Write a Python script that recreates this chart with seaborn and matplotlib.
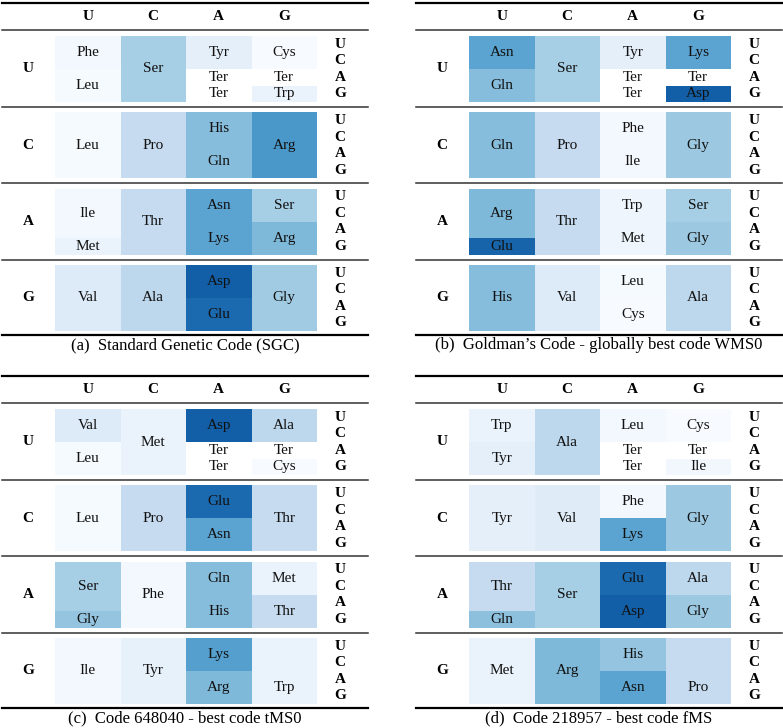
import numpy as np
import matplotlib
matplotlib.use("Agg")
import matplotlib.pyplot as plt
from matplotlib.lines import Line2D
import seaborn as sns

plt.rcParams["font.family"] = ["Liberation Serif", "DejaVu Serif"]

# 1. Data

BASES = ["U", "C", "A", "G"]

CAPTIONS = [
    "(a)  Standard Genetic Code (SGC)",
    "(b)  Goldman\u2019s Code - globally best code WMS0",
    "(c)  Code 648040 - best code tMS0",
    "(d)  Code 218957 - best code fMS",
]

# amino acid per codon: rows = first+third base, columns = second base
# "" = cell coloured like its neighbour but without its own label
SGC_NAMES = [
    ["Phe", "Ser", "Tyr", "Cys"], ["Phe", "Ser", "Tyr", "Cys"],
    ["Leu", "Ser", "Ter", "Ter"], ["Leu", "Ser", "Ter", "Trp"],
    ["Leu", "Pro", "His", "Arg"], ["Leu", "Pro", "His", "Arg"],
    ["Leu", "Pro", "Gln", "Arg"], ["Leu", "Pro", "Gln", "Arg"],
    ["Ile", "Thr", "Asn", "Ser"], ["Ile", "Thr", "Asn", "Ser"],
    ["Ile", "Thr", "Lys", "Arg"], ["Met", "Thr", "Lys", "Arg"],
    ["Val", "Ala", "Asp", "Gly"], ["Val", "Ala", "Asp", "Gly"],
    ["Val", "Ala", "Glu", "Gly"], ["Val", "Ala", "Glu", "Gly"],
]
SGC_SHADE = [
    [0.02, 0.35, 0.09, 0.00], [0.02, 0.35, 0.09, 0.00],
    [0.01, 0.35, np.nan, np.nan], [0.01, 0.35, np.nan, 0.07],
    [0.01, 0.25, 0.43, 0.60], [0.01, 0.25, 0.43, 0.60],
    [0.01, 0.25, 0.43, 0.60], [0.01, 0.25, 0.43, 0.60],
    [0.02, 0.25, 0.55, 0.35], [0.02, 0.25, 0.55, 0.35],
    [0.02, 0.25, 0.55, 0.45], [0.07, 0.25, 0.55, 0.45],
    [0.13, 0.28, 0.82, 0.37], [0.13, 0.28, 0.82, 0.37],
    [0.13, 0.28, 0.78, 0.37], [0.13, 0.28, 0.78, 0.37],
]

WMS0_NAMES = [
    ["Asn", "Ser", "Tyr", "Lys"], ["Asn", "Ser", "Tyr", "Lys"],
    ["Gln", "Ser", "Ter", "Ter"], ["Gln", "Ser", "Ter", "Asp"],
    ["Gln", "Pro", "Phe", "Gly"], ["Gln", "Pro", "Phe", "Gly"],
    ["Gln", "Pro", "Ile", "Gly"], ["Gln", "Pro", "Ile", "Gly"],
    ["Arg", "Thr", "Trp", "Ser"], ["Arg", "Thr", "Trp", "Ser"],
    ["Arg", "Thr", "Met", "Gly"], ["Glu", "Thr", "Met", "Gly"],
    ["His", "Val", "Leu", "Ala"], ["His", "Val", "Leu", "Ala"],
    ["His", "Val", "Cys", "Ala"], ["His", "Val", "Cys", "Ala"],
]
WMS0_SHADE = [
    [0.55, 0.35, 0.09, 0.55], [0.55, 0.35, 0.09, 0.55],
    [0.43, 0.35, np.nan, np.nan], [0.43, 0.35, np.nan, 0.82],
    [0.43, 0.25, 0.02, 0.38], [0.43, 0.25, 0.02, 0.38],
    [0.43, 0.25, 0.02, 0.38], [0.43, 0.25, 0.02, 0.38],
    [0.45, 0.25, 0.05, 0.35], [0.45, 0.25, 0.05, 0.35],
    [0.45, 0.25, 0.05, 0.38], [0.80, 0.25, 0.05, 0.38],
    [0.43, 0.13, 0.01, 0.28], [0.43, 0.13, 0.01, 0.28],
    [0.43, 0.13, 0.00, 0.28], [0.43, 0.13, 0.00, 0.28],
]

TMS0_NAMES = [
    ["Val", "Met", "Asp", "Ala"], ["Val", "Met", "Asp", "Ala"],
    ["Leu", "Met", "Ter", "Ter"], ["Leu", "Met", "Ter", "Cys"],
    ["Leu", "Pro", "Glu", "Thr"], ["Leu", "Pro", "Glu", "Thr"],
    ["Leu", "Pro", "Asn", "Thr"], ["Leu", "Pro", "Asn", "Thr"],
    ["Ser", "Phe", "Gln", "Met"], ["Ser", "Phe", "Gln", "Met"],
    ["Ser", "Phe", "His", "Thr"], ["Gly", "Phe", "His", "Thr"],
    ["Ile", "Tyr", "Lys", ""], ["Ile", "Tyr", "Lys", ""],
    ["Ile", "Tyr", "Arg", "Trp"], ["Ile", "Tyr", "Arg", "Trp"],
]
TMS0_SHADE = [
    [0.13, 0.07, 0.82, 0.28], [0.13, 0.07, 0.82, 0.28],
    [0.01, 0.07, np.nan, np.nan], [0.01, 0.07, np.nan, 0.00],
    [0.01, 0.25, 0.78, 0.25], [0.01, 0.25, 0.78, 0.25],
    [0.01, 0.25, 0.55, 0.25], [0.01, 0.25, 0.55, 0.25],
    [0.35, 0.02, 0.43, 0.07], [0.35, 0.02, 0.43, 0.07],
    [0.35, 0.02, 0.43, 0.25], [0.40, 0.02, 0.43, 0.25],
    [0.02, 0.08, 0.57, 0.07], [0.02, 0.08, 0.57, 0.07],
    [0.02, 0.08, 0.45, 0.07], [0.02, 0.08, 0.45, 0.07],
]

FMS_NAMES = [
    ["Trp", "Ala", "Leu", "Cys"], ["Trp", "Ala", "Leu", "Cys"],
    ["Tyr", "Ala", "Ter", "Ter"], ["Tyr", "Ala", "Ter", "Ile"],
    ["Tyr", "Val", "Phe", "Gly"], ["Tyr", "Val", "Phe", "Gly"],
    ["Tyr", "Val", "Lys", "Gly"], ["Tyr", "Val", "Lys", "Gly"],
    ["Thr", "Ser", "Glu", "Ala"], ["Thr", "Ser", "Glu", "Ala"],
    ["Thr", "Ser", "Asp", "Gly"], ["Gln", "Ser", "Asp", "Gly"],
    ["Met", "Arg", "His", ""], ["Met", "Arg", "His", ""],
    ["Met", "Arg", "Asn", "Pro"], ["Met", "Arg", "Asn", "Pro"],
]
FMS_SHADE = [
    [0.07, 0.28, 0.02, 0.00], [0.07, 0.28, 0.02, 0.00],
    [0.09, 0.28, np.nan, np.nan], [0.09, 0.28, np.nan, 0.03],
    [0.09, 0.12, 0.02, 0.38], [0.09, 0.12, 0.02, 0.38],
    [0.09, 0.12, 0.55, 0.38], [0.09, 0.12, 0.55, 0.38],
    [0.25, 0.35, 0.78, 0.28], [0.25, 0.35, 0.78, 0.28],
    [0.25, 0.35, 0.82, 0.38], [0.42, 0.35, 0.82, 0.38],
    [0.07, 0.45, 0.40, 0.25], [0.07, 0.45, 0.40, 0.25],
    [0.07, 0.45, 0.55, 0.25], [0.07, 0.45, 0.55, 0.25],
]

PANELS = [
    (SGC_NAMES, SGC_SHADE),
    (WMS0_NAMES, WMS0_SHADE),
    (TMS0_NAMES, TMS0_SHADE),
    (FMS_NAMES, FMS_SHADE),
]

# 2. Layout (pixels)

W, H = 783, 728
ORIGINS = [(2, 3), (416, 3), (2, 376), (416, 376)]
TABLE_W = 366
HM_X0, HM_W = 53, 262
BLOCK_TOP0, BLOCK_PITCH, BLOCK_H = 33, 76.3, 66


def fx(x):
    return x / W


def fy(y):
    return 1 - y / H


def hline(fig, x0, x1, y, lw, color):
    fig.add_artist(Line2D([fx(x0), fx(x1)], [fy(y), fy(y)],
                          lw=lw, color=color, transform=fig.transFigure))


def label_runs(col):
    """Yield (text, centre row) for runs of equal names in one column."""
    runs = []
    i = 0
    while i < len(col):
        j = i
        if col[i] != "Ter":
            while j + 1 < len(col) and col[j + 1] == col[i]:
                j += 1
        if col[i]:
            runs.append((col[i], (i + j + 1) / 2))
        i = j + 1
    return runs


def draw_panel(fig, names, shade, caption, ox, oy):
    names = np.array(names)
    shade = np.array(shade, dtype=float)

    hline(fig, ox, ox + TABLE_W, oy, 1.6, "black")
    hline(fig, ox, ox + TABLE_W, oy + 27, 1.1, "#333333")
    for k, b in enumerate(BASES):
        fig.text(fx(ox + HM_X0 + HM_W * (k + 0.5) / 4), fy(oy + 13.5), b,
                 ha="center", va="center", fontsize=11, fontweight="bold")

    for b in range(4):
        top = oy + BLOCK_TOP0 + b * BLOCK_PITCH
        ax = fig.add_axes([fx(ox + HM_X0), fy(top + BLOCK_H),
                           HM_W / W, BLOCK_H / H])
        vals = shade[b * 4:(b + 1) * 4]
        sns.heatmap(vals, ax=ax, cmap="Blues", vmin=0, vmax=1, cbar=False,
                    mask=np.isnan(vals), xticklabels=False,
                    yticklabels=False, linewidths=0)
        ax.set_xlabel("")
        ax.set_ylabel("")

        block_names = names[b * 4:(b + 1) * 4]
        for c in range(4):
            for txt, centre in label_runs(list(block_names[:, c])):
                ax.text(c + 0.5, centre, txt, ha="center", va="center",
                        fontsize=11, color="#111111")

        fig.text(fx(ox + 26), fy(top + BLOCK_H / 2), BASES[b],
                 ha="center", va="center", fontsize=11, fontweight="bold")
        for r, base in enumerate(BASES):
            fig.text(fx(ox + 338), fy(top + BLOCK_H * (r + 0.5) / 4), base,
                     ha="center", va="center", fontsize=11,
                     fontweight="bold")

        if b < 3:
            hline(fig, ox, ox + TABLE_W, top + BLOCK_H + 5, 1.1, "#333333")

    hline(fig, ox, ox + TABLE_W, oy + 332, 1.6, "black")
    fig.text(fx(ox + TABLE_W / 2), fy(oy + 342), caption,
             ha="center", va="center", fontsize=12)


# 3. Plot

fig = plt.figure(figsize=(W / 100, H / 100), dpi=100)
fig.patch.set_facecolor("white")

for (names, shade), caption, (ox, oy) in zip(PANELS, CAPTIONS, ORIGINS):
    draw_panel(fig, names, shade, caption, ox, oy)

fig.savefig("out.png", dpi=100, facecolor="white")
